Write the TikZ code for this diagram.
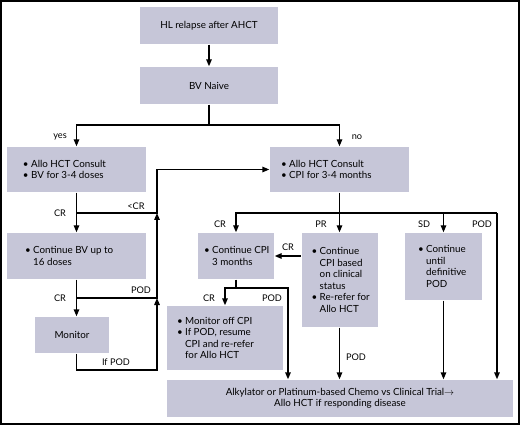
\documentclass[tikz,border=0pt]{standalone}
\usepackage{fontspec}
\setmainfont{Lato}
\usepackage{tikz}
\usetikzlibrary{arrows.meta}
\definecolor{boxgray}{RGB}{198, 198, 216}
\newcommand{\bul}{\textbullet\ }
\newcommand{\hng}{\phantom{\textbullet\ }}

\begin{document}
\begin{tikzpicture}[x=1pt, y=-1pt, line width=1.4pt,
  box/.style={fill=boxgray, inner sep=0pt, align=center, font=\fontsize{9.8}{11.5}\selectfont},
  txt/.style={inner sep=0pt, anchor=west, align=left, font=\fontsize{9.8}{11.5}\selectfont},
  lbl/.style={inner sep=0pt, font=\fontsize{9.2}{10}\selectfont},
  arr/.style={-{Triangle[width=5.5pt, length=7pt]}}]
  \useasboundingbox (0, 0) rectangle (520, 425);
  \draw[line width=2pt] (1, 1) rectangle (519, 424);

  % boxes
  \node[box, minimum width=138, minimum height=37] (relapse) at (209, 25.5) {HL relapse after AHCT};
  \node[box, minimum width=138, minimum height=37] (naive) at (209, 85.5) {BV Naive};
  \node[box, minimum width=139, minimum height=45] (yesbox) at (76.5, 169.5) {};
  \node[box, minimum width=139, minimum height=45] (nobox) at (339.5, 169.5) {};
  \node[box, minimum width=139, minimum height=46] (contbv) at (76.5, 256) {};
  \node[box, minimum width=74, minimum height=36] (monitor) at (72, 335) {Monitor};
  \node[box, minimum width=76, minimum height=46] (contcpi) at (236, 256) {};
  \node[box, minimum width=76, minimum height=94] (prbox) at (339.5, 280) {};
  \node[box, minimum width=77, minimum height=67] (sdbox) at (443.5, 266.5) {};
  \node[box, minimum width=116, minimum height=64] (moncpi) at (225, 338) {};
  \node[box, minimum width=346, minimum height=37] (chemo) at (340, 398.5) {Alkylator or Platinum-based Chemo vs Clinical Trial$\rightarrow$\\Allo HCT if responding disease};

  % box texts
  \node[txt] (yestxt) at ([xshift=16]yesbox.west) {\bul Allo HCT Consult\\\bul BV for 3-4 doses};
  \node[txt] (notxt) at ([xshift=11]nobox.west) {\bul Allo HCT Consult\\\bul CPI for 3-4 months};
  \node[txt] (contbvtxt) at ([xshift=18]contbv.west) {\bul Continue BV up to\\\hng 16 doses};
  \node[txt] (contcpitxt) at ([xshift=6]contcpi.west) {\bul Continue CPI\\\hng 3 months};
  \node[txt] (prtxt) at ([xshift=10]prbox.west) {\bul Continue\\\hng CPI based\\\hng on clinical\\\hng status\\\bul Re-refer for\\\hng Allo HCT};
  \node[txt] (sdtxt) at ([xshift=13]sdbox.west) {\bul Continue\\\hng until\\\hng definitive\\\hng POD};
  \node[txt] (moncpitxt) at ([xshift=10]moncpi.west) {\bul Monitor off CPI\\\bul If POD, resume\\\hng CPI and re-refer\\\hng for Allo HCT};

  % junctions
  \coordinate (split) at (209, 125);
  \coordinate (jcr) at (76.5, 213);
  \coordinate (jpod) at (76.5, 298);
  \coordinate (jup1) at (157, 213);
  \coordinate (jup2) at (157, 298);
  \coordinate (jbot) at (157, 370);
  \coordinate (rsplit) at (339.5, 213);
  \coordinate (podr) at (497, 213);
  \coordinate (csplit) at (236, 288);
  \coordinate (cpod) at (288, 288);

  % connectors
  \draw[arr] (relapse) -- (naive);
  \draw (naive) -- (split);
  \draw[arr] (split) -| (yesbox.north);
  \draw[arr] (split) -| (nobox.north);
  \draw[arr] (yesbox) -- (contbv);
  \draw[arr] (jcr) -- (jup1) |- (nobox.west);
  \draw[arr] (contbv) -- (jpod |- monitor.north);
  \draw[arr] (jpod) -| (jup1);
  \draw[arr] (jpod |- monitor.south) |- (jbot) -- (jup2);
  \draw[arr] (nobox) -- (prbox);
  \draw[arr] (rsplit) -| (contcpi.north);
  \draw[arr] (rsplit) -| (sdbox.north);
  \draw (rsplit) -- (podr);
  \draw[arr] (podr) -- (podr |- chemo.north);
  \draw[arr] (prbox.west |- contcpi) -- (contcpi.east);
  \draw (contcpi) -- (csplit);
  \draw[arr] (csplit) -| (moncpi.north);
  \draw[arr] (csplit) -| (cpod |- chemo.north);
  \draw[arr] (prbox) -- (prbox |- chemo.north);
  \draw[arr] (sdbox) -- (sdbox |- chemo.north);

  % labels
  \node[lbl] (lyes) at (60, 137) {yes};
  \node[lbl] (lno) at (357, 137) {no};
  \node[lbl] (lcr1) at (60, 213) {CR};
  \node[lbl] (lltcr) at (136, 206) {<CR};
  \node[lbl] (lcr2) at (60, 298) {CR};
  \node[lbl] (lpod1) at (141, 290) {POD};
  \node[lbl] (lifpod) at (116, 362) {If POD};
  \node[lbl] (lcr3) at (220, 224) {CR};
  \node[lbl] (lpr) at (321, 224) {PR};
  \node[lbl] (lsd) at (424, 224) {SD};
  \node[lbl] (lpod2) at (482, 224) {POD};
  \node[lbl] (lcr4) at (288, 247) {CR};
  \node[lbl] (lcr5) at (209, 298) {CR};
  \node[lbl] (lpod3) at (272, 298) {POD};
  \node[lbl] (lpod4) at (356, 357) {POD};
\end{tikzpicture}
\end{document}
